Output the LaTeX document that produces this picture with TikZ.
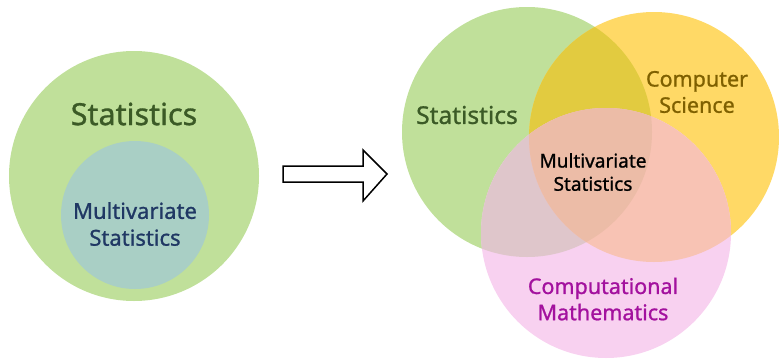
\documentclass[tikz,border=0pt]{standalone}
\usepackage{fontspec}
\setmainfont{Noto Sans}[FakeBold=1.0]
\definecolor{cgreen}{HTML}{C0E09A}
\definecolor{cteal}{HTML}{A9CFC5}
\definecolor{cyellow}{HTML}{FFD966}
\definecolor{cpink}{HTML}{F8D1F0}
\definecolor{cGY}{HTML}{E2CB40}
\definecolor{cGP}{HTML}{DFC6CB}
\definecolor{cYP}{HTML}{F8C3B4}
\definecolor{cGYP}{HTML}{ECBCA7}
\definecolor{tgreen}{HTML}{3B5A26}
\definecolor{tnavy}{HTML}{203864}
\definecolor{tgold}{HTML}{7F6000}
\definecolor{tmag}{HTML}{A3119E}
\tikzset{lbl/.style={align=center, inner sep=0pt, font=\fontsize{#1}{1.22\dimexpr#1pt\relax}\selectfont}}
\begin{document}
\begin{tikzpicture}[x=1pt,y=-1pt]
\useasboundingbox (0,0) rectangle (779,359);
% left
\fill[cgreen] (134,176) circle (125);
\fill[cteal] (135,215) circle (74);
\node[lbl=30.5, text=tgreen] (lstat) at (134,114) {Statistics};
\node[lbl=22, text=tnavy] (lmulti) at (135,224) {Multivariate\\Statistics};
% arrow
\draw[line width=1.5pt, fill=white, line join=miter] (283,166) -- (363,166) -- (363,150) -- (387,174) -- (363,201) -- (363,182) -- (283,182) -- cycle;
% venn
\def\G{(527,132) circle (125)}
\def\Y{(654,137) circle (125)}
\def\P{(606,233) circle (125)}
\fill[cgreen] \G;
\fill[cyellow] \Y;
\fill[cpink] \P;
\begin{scope}\clip \G; \fill[cGY] \Y; \end{scope}
\begin{scope}\clip \G; \fill[cGP] \P; \end{scope}
\begin{scope}\clip \Y; \fill[cYP] \P; \end{scope}
\begin{scope}\clip \G; \clip \Y; \fill[cGYP] \P; \end{scope}
\node[lbl=24.5, text=tgreen] (rstat) at (467,115) {Statistics};
\node[lbl=21.5, text=tgold] (cs) at (697,92) {Computer\\Science};
\node[lbl=19, text=black] (mv) at (593,172) {Multivariate\\Statistics};
\node[lbl=21.5, text=tmag] (cm) at (603,299) {Computational\\Mathematics};
\end{tikzpicture}
\end{document}
